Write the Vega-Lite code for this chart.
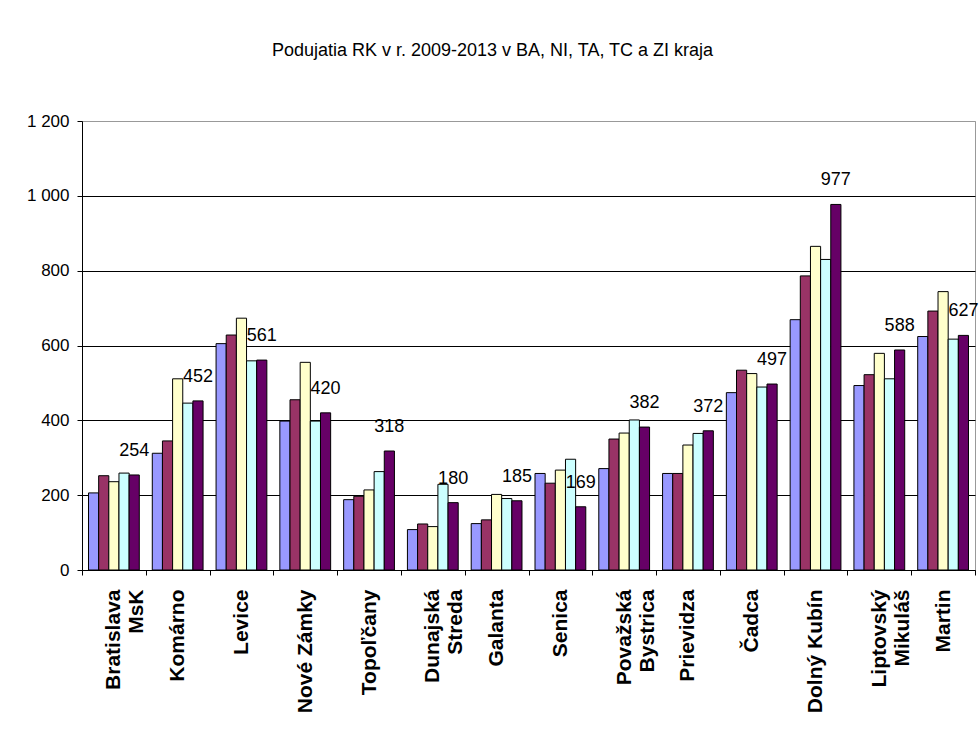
{
  "$schema": "https://vega.github.io/schema/vega-lite/v6.json",
  "autosize": {"type": "none"},
  "width": 893,
  "height": 449,
  "padding": {"left": 82, "top": 121, "right": 4, "bottom": 170},
  "background": "white",
  "title": {
    "text": "Podujatia RK v r. 2009-2013 v BA, NI, TA, TC a ZI kraja",
    "font": "Liberation Sans",
    "fontSize": 18,
    "fontWeight": "normal",
    "color": "black",
    "anchor": "middle",
    "dx": -36,
    "offset": 52
  },
  "config": {
    "view": {"stroke": "#999999", "strokeWidth": 1},
    "font": "Liberation Sans"
  },
  "data": {
    "values": [
      {"okres": "Bratislava MsK", "rok": "2009", "pocet": 206},
      {"okres": "Bratislava MsK", "rok": "2010", "pocet": 252},
      {"okres": "Bratislava MsK", "rok": "2011", "pocet": 236},
      {"okres": "Bratislava MsK", "rok": "2012", "pocet": 259},
      {"okres": "Bratislava MsK", "rok": "2013", "pocet": 254},
      {"okres": "Komárno", "rok": "2009", "pocet": 312},
      {"okres": "Komárno", "rok": "2010", "pocet": 345},
      {"okres": "Komárno", "rok": "2011", "pocet": 511},
      {"okres": "Komárno", "rok": "2012", "pocet": 446},
      {"okres": "Komárno", "rok": "2013", "pocet": 452},
      {"okres": "Levice", "rok": "2009", "pocet": 605},
      {"okres": "Levice", "rok": "2010", "pocet": 628},
      {"okres": "Levice", "rok": "2011", "pocet": 673},
      {"okres": "Levice", "rok": "2012", "pocet": 559},
      {"okres": "Levice", "rok": "2013", "pocet": 561},
      {"okres": "Nové Zámky", "rok": "2009", "pocet": 398},
      {"okres": "Nové Zámky", "rok": "2010", "pocet": 455},
      {"okres": "Nové Zámky", "rok": "2011", "pocet": 555},
      {"okres": "Nové Zámky", "rok": "2012", "pocet": 398},
      {"okres": "Nové Zámky", "rok": "2013", "pocet": 420},
      {"okres": "Topoľčany", "rok": "2009", "pocet": 188},
      {"okres": "Topoľčany", "rok": "2010", "pocet": 197},
      {"okres": "Topoľčany", "rok": "2011", "pocet": 214},
      {"okres": "Topoľčany", "rok": "2012", "pocet": 263},
      {"okres": "Topoľčany", "rok": "2013", "pocet": 318},
      {"okres": "Dunajská Streda", "rok": "2009", "pocet": 108},
      {"okres": "Dunajská Streda", "rok": "2010", "pocet": 123},
      {"okres": "Dunajská Streda", "rok": "2011", "pocet": 116},
      {"okres": "Dunajská Streda", "rok": "2012", "pocet": 229},
      {"okres": "Dunajská Streda", "rok": "2013", "pocet": 180},
      {"okres": "Galanta", "rok": "2009", "pocet": 124},
      {"okres": "Galanta", "rok": "2010", "pocet": 134},
      {"okres": "Galanta", "rok": "2011", "pocet": 202},
      {"okres": "Galanta", "rok": "2012", "pocet": 191},
      {"okres": "Galanta", "rok": "2013", "pocet": 185},
      {"okres": "Senica", "rok": "2009", "pocet": 258},
      {"okres": "Senica", "rok": "2010", "pocet": 232},
      {"okres": "Senica", "rok": "2011", "pocet": 267},
      {"okres": "Senica", "rok": "2012", "pocet": 296},
      {"okres": "Senica", "rok": "2013", "pocet": 169},
      {"okres": "Považská Bystrica", "rok": "2009", "pocet": 271},
      {"okres": "Považská Bystrica", "rok": "2010", "pocet": 350},
      {"okres": "Považská Bystrica", "rok": "2011", "pocet": 366},
      {"okres": "Považská Bystrica", "rok": "2012", "pocet": 401},
      {"okres": "Považská Bystrica", "rok": "2013", "pocet": 382},
      {"okres": "Prievidza", "rok": "2009", "pocet": 258},
      {"okres": "Prievidza", "rok": "2010", "pocet": 258},
      {"okres": "Prievidza", "rok": "2011", "pocet": 334},
      {"okres": "Prievidza", "rok": "2012", "pocet": 365},
      {"okres": "Prievidza", "rok": "2013", "pocet": 372},
      {"okres": "Čadca", "rok": "2009", "pocet": 474},
      {"okres": "Čadca", "rok": "2010", "pocet": 534},
      {"okres": "Čadca", "rok": "2011", "pocet": 525},
      {"okres": "Čadca", "rok": "2012", "pocet": 489},
      {"okres": "Čadca", "rok": "2013", "pocet": 497},
      {"okres": "Dolný Kubín", "rok": "2009", "pocet": 669},
      {"okres": "Dolný Kubín", "rok": "2010", "pocet": 786},
      {"okres": "Dolný Kubín", "rok": "2011", "pocet": 865},
      {"okres": "Dolný Kubín", "rok": "2012", "pocet": 830},
      {"okres": "Dolný Kubín", "rok": "2013", "pocet": 977},
      {"okres": "Liptovský Mikuláš", "rok": "2009", "pocet": 493},
      {"okres": "Liptovský Mikuláš", "rok": "2010", "pocet": 522},
      {"okres": "Liptovský Mikuláš", "rok": "2011", "pocet": 579},
      {"okres": "Liptovský Mikuláš", "rok": "2012", "pocet": 511},
      {"okres": "Liptovský Mikuláš", "rok": "2013", "pocet": 588},
      {"okres": "Martin", "rok": "2009", "pocet": 624},
      {"okres": "Martin", "rok": "2010", "pocet": 692},
      {"okres": "Martin", "rok": "2011", "pocet": 744},
      {"okres": "Martin", "rok": "2012", "pocet": 617},
      {"okres": "Martin", "rok": "2013", "pocet": 627}
    ]
  },
  "encoding": {
    "x": {
      "field": "okres",
      "type": "nominal",
      "sort": null,
      "title": null,
      "scale": {"paddingInner": 0, "paddingOuter": 0},
      "axis": {
        "labelAngle": -90,
        "labelAlign": "right",
        "labelBaseline": "middle",
        "labelFont": "Liberation Sans",
        "labelFontSize": 21,
        "labelFontWeight": "bold",
        "labelColor": "black",
        "labelPadding": 14,
        "labelLineHeight": 23,
        "labelExpr": "indexof(['Bratislava MsK','Dunajská Streda','Považská Bystrica','Liptovský Mikuláš'], datum.label) >= 0 ? split(datum.label, ' ') : datum.label",
        "tickBand": "extent",
        "tickSize": 5,
        "tickColor": "black",
        "domainColor": "black",
        "labelOverlap": false
      }
    },
    "y": {
      "field": "pocet",
      "type": "quantitative",
      "title": null,
      "scale": {"domain": [0, 1200], "nice": false},
      "axis": {
        "values": [0, 200, 400, 600, 800, 1000, 1200],
        "labelExpr": "replace(format(datum.value, ','), ',', ' ')",
        "labelFont": "Liberation Sans",
        "labelFontSize": 17,
        "labelColor": "black",
        "labelPadding": 8,
        "tickSize": 5,
        "tickColor": "black",
        "domainColor": "black",
        "grid": true,
        "gridColor": {"condition": {"test": "datum.value === 1200", "value": "#999999"}, "value": "black"},
        "gridOpacity": 1
      }
    },
    "xOffset": {
      "field": "rok",
      "type": "nominal",
      "scale": {"domain": ["2009", "2010", "2011", "2012", "2013"], "paddingInner": 0, "paddingOuter": 0.64}
    }
  },
  "layer": [
    {
      "mark": {"type": "bar", "stroke": "black", "strokeWidth": 1},
      "encoding": {
        "color": {
          "field": "rok",
          "type": "nominal",
          "scale": {
            "domain": ["2009", "2010", "2011", "2012", "2013"],
            "range": ["#9999FF", "#993366", "#FFFFCC", "#CCFFFF", "#660066"]
          },
          "legend": null
        }
      }
    },
    {
      "transform": [{"filter": "datum.rok === '2013'"}],
      "mark": {
        "type": "text",
        "baseline": "middle",
        "align": "center",
        "dy": -24,
        "font": "Liberation Sans",
        "fontSize": 18,
        "color": "black"
      },
      "encoding": {
        "text": {"field": "pocet", "type": "quantitative"}
      }
    }
  ]
}
